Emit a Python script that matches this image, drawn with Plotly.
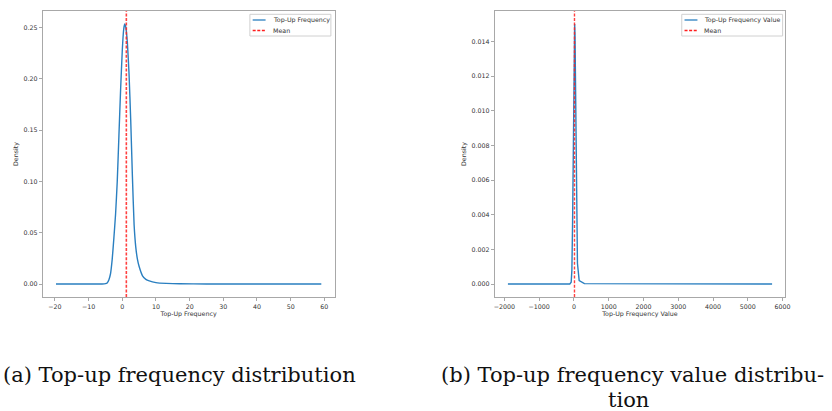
import plotly.graph_objects as go

# ---------------- data ----------------
freq_x = [-19.7, -6, -5, -4.5, -4, -3.5, -3, -2.5, -2, -1.5, -1, -0.5, 0, 0.4, 0.7,
          1.0, 1.5, 2.0, 2.5, 3.0, 3.5, 4, 4.5, 5, 6, 7, 8, 10, 13, 17, 25, 59.1]
freq_y = [0, 0, 0.0003, 0.001, 0.004, 0.010, 0.024, 0.045, 0.068, 0.100, 0.145, 0.190,
          0.228, 0.248, 0.2536, 0.251, 0.236, 0.205, 0.160, 0.105, 0.058, 0.036, 0.024,
          0.017, 0.008, 0.0045, 0.003, 0.0014, 0.0006, 0.0002, 0.00005, 0]
freq_mean = 1.2

val_x = [-1900, -120, -80, -60, -40, -20, 0, 10, 20, 30, 40, 60, 80, 100, 150, 300, 5700]
val_y = [0, 0, 0.0001, 0.0008, 0.0035, 0.0085, 0.0132, 0.0147, 0.0150, 0.0144, 0.0128,
         0.0080, 0.0035, 0.0012, 0.0002, 0.00002, 0]
val_mean = 15

freq_xticks = [-20, -10, 0, 10, 20, 30, 40, 50, 60]
freq_yticks = [0.00, 0.05, 0.10, 0.15, 0.20, 0.25]
val_xticks = [-2000, -1000, 0, 1000, 2000, 3000, 4000, 5000, 6000]
val_yticks = [0.000, 0.002, 0.004, 0.006, 0.008, 0.010, 0.012, 0.014]

series_names = ["Top-Up Frequency", "Top-Up Frequency Value"]
mean_name = "Mean"
xlabels = ["Top-Up Frequency", "Top-Up Frequency Value"]
captions = ["(a) Top-up frequency distribution",
            "(b) Top-up frequency value distribu-", "tion"]

# ---------------- layout helpers ----------------
W, H = 832, 411
BLUE = "#2a7fc0"
RED = "rgba(255,30,30,0.85)"
FRAME = "#a8a8a8"
TXT = "#333333"
FONT = "DejaVu Sans"
FS = 6.3

def px(x):
    return x / W

def py(y):
    return 1 - y / H

fig = go.Figure()

fig.add_trace(go.Scatter(x=freq_x, y=freq_y, mode="lines", name=series_names[0],
                         line=dict(color=BLUE, width=1.4, shape="spline", smoothing=0.4),
                         xaxis="x", yaxis="y", showlegend=False))
fig.add_trace(go.Scatter(x=val_x, y=val_y, mode="lines", name=series_names[1],
                         line=dict(color=BLUE, width=1.4), xaxis="x2", yaxis="y2",
                         showlegend=False))

# mean lines
fig.add_shape(type="line", xref="x", yref="y domain", x0=freq_mean, x1=freq_mean,
              y0=0, y1=1, line=dict(color=RED, width=1.6, dash="3px,1.6px"))
fig.add_shape(type="line", xref="x2", yref="y2 domain", x0=val_mean, x1=val_mean,
              y0=0, y1=1, line=dict(color=RED, width=1.4, dash="3px,1.6px"))

axis_common = dict(showgrid=False, zeroline=False, showline=True, mirror=True,
                   linecolor=FRAME, linewidth=1, ticks="outside", ticklen=3,
                   tickcolor=FRAME, tickwidth=1,
                   tickfont=dict(family=FONT, size=FS, color=TXT))

ydom = [py(297), py(11)]
fig.update_layout(
    width=W, height=H, margin=dict(l=0, r=0, t=0, b=0),
    paper_bgcolor="white", plot_bgcolor="white",
    font=dict(family=FONT, size=FS, color=TXT),
    xaxis=dict(domain=[px(42), px(336)], range=[-23.64, 63.04], anchor="y",
               tickvals=freq_xticks, ticktext=[str(v).replace("-", "\u2212") for v in freq_xticks],
               title=dict(text=xlabels[0], font=dict(family=FONT, size=FS, color=TXT), standoff=2),
               **axis_common),
    yaxis=dict(domain=ydom, range=[-0.01268, 0.2663], anchor="x",
               tickvals=freq_yticks, ticktext=[f"{v:.2f}" for v in freq_yticks],
               title=dict(text="Density", font=dict(family=FONT, size=FS, color=TXT), standoff=4),
               **axis_common),
    xaxis2=dict(domain=[px(497.3), px(790)], range=[-2280, 6080], anchor="y2",
                tickvals=val_xticks, ticktext=[str(v).replace("-", "\u2212") for v in val_xticks],
                title=dict(text=xlabels[1], font=dict(family=FONT, size=FS, color=TXT), standoff=2),
                **axis_common),
    yaxis2=dict(domain=ydom, range=[-0.00075, 0.01575], anchor="x2",
                tickvals=val_yticks, ticktext=[f"{v:.3f}" for v in val_yticks],
                title=dict(text="Density", font=dict(family=FONT, size=FS, color=TXT), standoff=4),
                **axis_common),
    showlegend=False,
)

# ---------------- hand-drawn legends (matplotlib style) ----------------
def legend(box, line_x, text_x, label):
    x0, y0, x1, y1 = box
    fig.add_shape(type="rect", xref="paper", yref="paper", x0=px(x0), x1=px(x1),
                  y0=py(y1), y1=py(y0), line=dict(color="#d0d0d0", width=1),
                  fillcolor="rgba(255,255,255,0.8)", layer="above")
    for yy, col, dash, txt in [(20, BLUE, "solid", label), (30.5, "rgb(255,30,30)", "3px,1.6px", mean_name)]:
        fig.add_shape(type="line", xref="paper", yref="paper", x0=px(line_x[0]), x1=px(line_x[1]),
                      y0=py(yy), y1=py(yy), line=dict(color=col, width=1.3, dash=dash), layer="above")
        fig.add_annotation(xref="paper", yref="paper", x=px(text_x), y=py(yy), text=txt,
                           showarrow=False, xanchor="left", yanchor="middle",
                           font=dict(family=FONT, size=FS, color=TXT))

legend((250.7, 14.3, 332.3, 36), (253.5, 266.5), 271.5, series_names[0])
legend((685.7, 14.3, 787.3, 36), (688.5, 701.5), 706.5, series_names[1])

# ---------------- captions ----------------
CAP = dict(family="DejaVu Serif", size=21, color="#111111")
fig.add_annotation(xref="paper", yref="paper", x=px(0), y=py(375), text=captions[0],
                   showarrow=False, xanchor="left", yanchor="middle", font=CAP)
fig.add_annotation(xref="paper", yref="paper", x=px(636), y=py(375), text=captions[1],
                   showarrow=False, xanchor="center", yanchor="middle", font=CAP)
fig.add_annotation(xref="paper", yref="paper", x=px(632), y=py(400), text=captions[2],
                   showarrow=False, xanchor="center", yanchor="middle", font=CAP)

fig.write_html("out.html")
